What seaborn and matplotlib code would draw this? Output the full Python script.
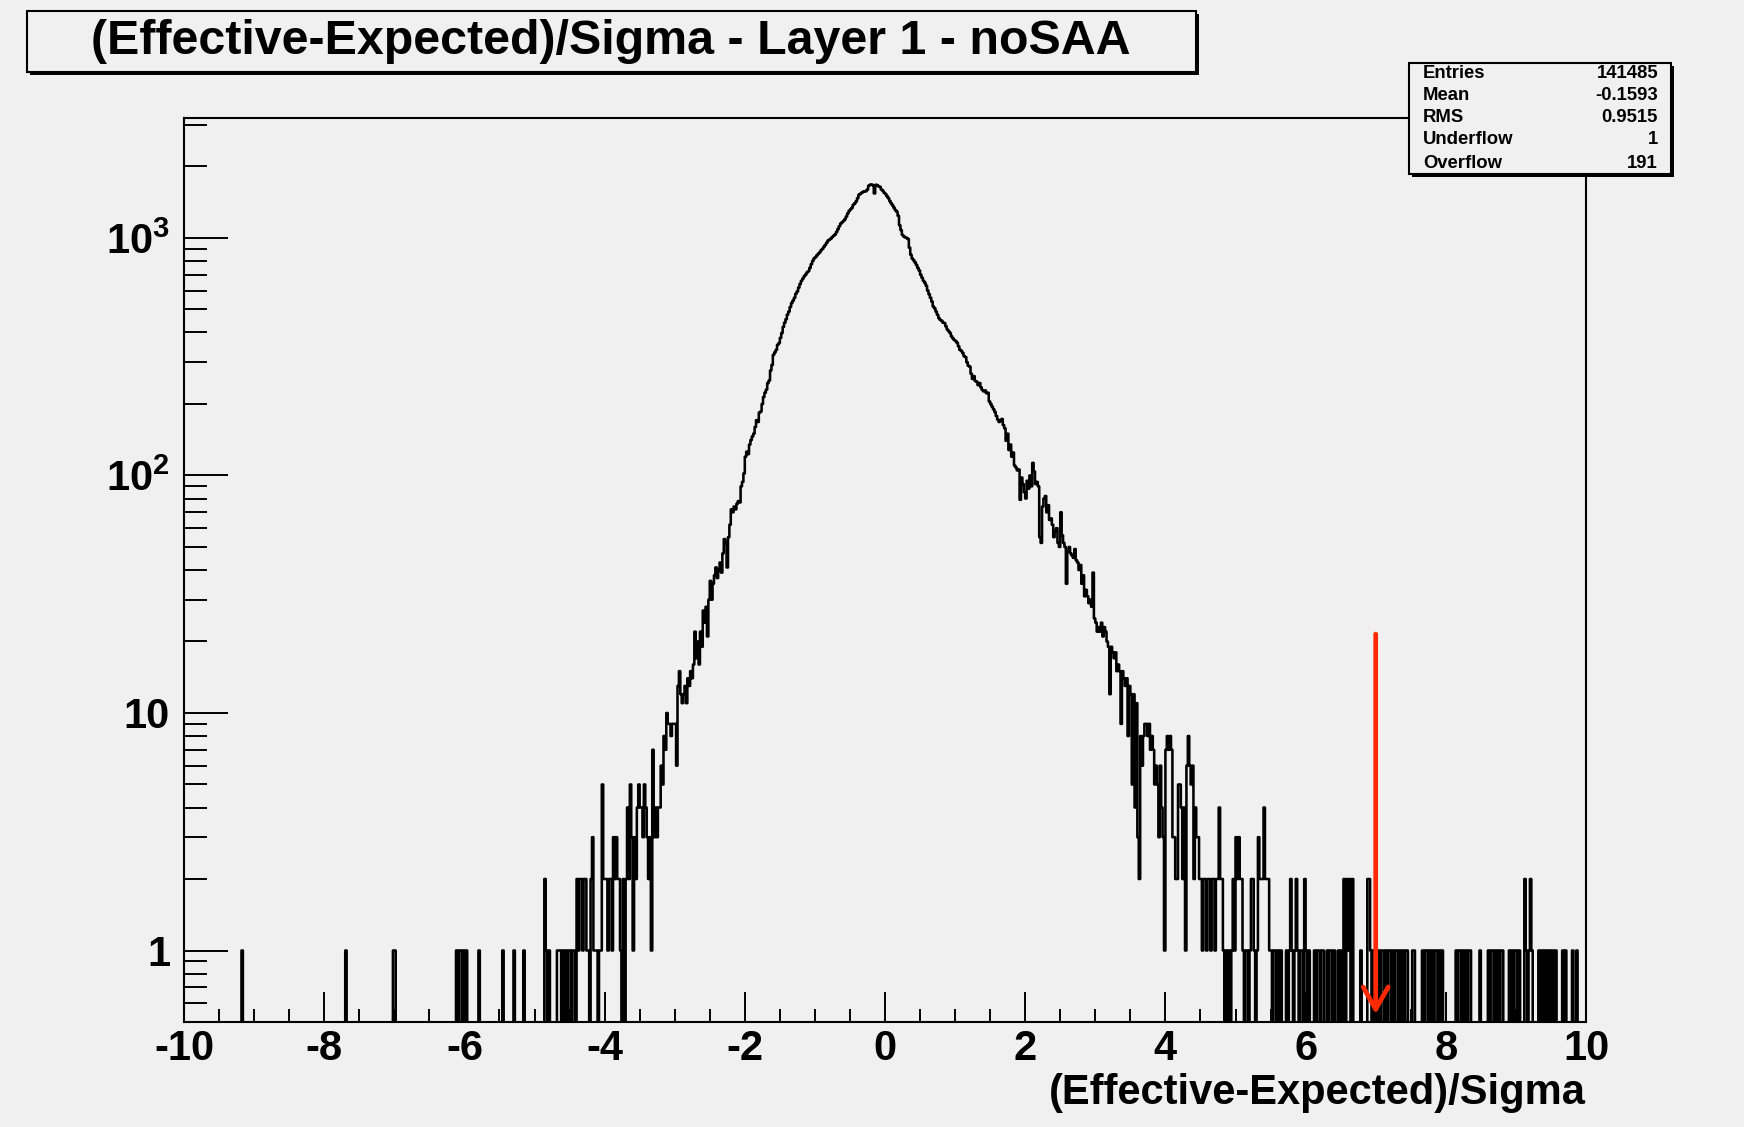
import numpy as np
import pandas as pd
import matplotlib
matplotlib.use("Agg")
import matplotlib.pyplot as plt
from matplotlib.patches import Rectangle, FancyArrowPatch
from matplotlib.ticker import LogLocator, MultipleLocator, NullFormatter
import seaborn as sns

# ---------------------------------------------------------------- data
x_lo, x_hi, n_bins = -10.0, 10.0, 1000

# isolated single entries in the far negative tail (bin left edges)
left_tail_x = [-9.18, -7.70, -7.02, -7.00, -6.12, -6.08, -6.06, -6.02,
               -5.98, -5.80, -5.46, -5.30, -5.16]

# bin contents from -5.00 upward, 0.02 per bin, 25 bins (0.5 units) per line
main_start = -5.0
main_counts = [
    0, 0, 0, 0, 0, 0, 0, 2, 1, 0, 1, 0, 0, 0, 0, 0, 1, 1, 1, 0, 1, 0, 1, 0, 1,            # -5.0
    1, 0, 1, 1, 0, 2, 1, 2, 2, 1, 2, 2, 1, 1, 0, 2, 3, 1, 1, 1, 0, 1, 1, 5, 2,            # -4.5
    2, 2, 1, 2, 2, 1, 3, 2, 3, 2, 2, 1, 0, 2, 0, 2, 4, 2, 5, 3, 1, 3, 2, 4, 5,            # -4.0
    4, 4, 3, 5, 4, 3, 2, 3, 1, 7, 3, 4, 3, 4, 4, 6, 5, 8, 7, 10, 9, 9, 8, 9, 9,           # -3.5
    9, 6, 13, 15, 12, 11, 12, 13, 11, 14, 13, 15, 14, 16, 22, 17, 20, 16, 22, 19,
    27, 24, 28, 21, 30,                                                                    # -3.0
    36, 30, 35, 38, 41, 37, 40, 43, 39, 47, 54, 52, 41, 55, 62, 72, 70, 74, 72, 76,
    78, 77, 90, 94, 102,                                                                   # -2.5
    120, 126, 123, 135, 141, 146, 150, 160, 171, 168, 184, 186, 200, 214, 223, 230,
    245, 251, 277, 292, 322, 330, 338, 355, 361,                                           # -2.0
    380, 398, 422, 440, 455, 476, 490, 512, 532, 545, 560, 582, 595, 618, 640, 660,
    675, 690, 702, 716, 725, 748, 775, 800, 820,                                           # -1.5
    830, 845, 858, 870, 888, 900, 918, 935, 955, 975, 985, 995, 1010, 1022, 1035,
    1060, 1090, 1120, 1150, 1165, 1180, 1200, 1230, 1270, 1300,                            # -1.0
    1320, 1340, 1380, 1400, 1425, 1470, 1520, 1535, 1550, 1565, 1570, 1575, 1600,
    1660, 1675, 1680, 1665, 1540, 1675, 1670, 1650, 1640, 1600, 1580, 1550,                # -0.5
    1530, 1500, 1470, 1430, 1400, 1370, 1340, 1310, 1290, 1240, 1130, 1080, 1030,
    1015, 1005, 1000, 990, 910, 850, 820, 805, 790, 770, 748, 730,                         # 0.0
    700, 680, 660, 647, 630, 600, 580, 560, 540, 515, 505, 490, 475, 460, 452, 448,
    440, 438, 425, 412, 405, 398, 385, 378, 372,                                           # 0.5
    368, 362, 350, 338, 335, 328, 318, 315, 300, 290, 287, 268, 255, 262, 250, 248,
    240, 245, 235, 229, 226, 228, 222, 223, 205,                                           # 1.0
    200, 195, 190, 185, 178, 172, 168, 170, 173, 163, 158, 140, 150, 128, 135, 120,
    125, 110, 108, 105, 106, 79, 98, 92, 85,                                               # 1.5
    80, 95, 88, 100, 90, 113, 104, 92, 94, 90, 55, 52, 74, 80, 82, 70, 75, 65, 66, 62,
    55, 58, 60, 52, 50,                                                                    # 2.0
    70, 56, 52, 50, 35, 48, 50, 47, 46, 45, 49, 44, 43, 40, 42, 35, 38, 31, 33, 31,
    29, 30, 28, 39, 25,                                                                    # 2.5
    24, 22, 23, 22, 24, 21, 23, 22, 20, 19, 12, 19, 18, 17, 18, 15, 16, 15, 9, 15,
    14, 13, 14, 8, 13,                                                                     # 3.0
    12, 5, 12, 4, 11, 3, 2, 8, 6, 8, 9, 9, 8, 9, 7, 8, 7, 5, 6, 5, 3, 6, 4, 3, 1,          # 3.5
    7, 8, 7, 8, 7, 3, 3, 2, 2, 5, 5, 4, 2, 4, 1, 6, 8, 6, 5, 6, 2, 4, 3, 3, 2,            # 4.0
    2, 1, 2, 2, 1, 2, 2, 1, 2, 2, 1, 2, 2, 4, 2, 2, 1, 0, 1, 0, 1, 0, 1, 2, 1,            # 4.5
    3, 2, 3, 2, 2, 1, 0, 1, 1, 0, 1, 2, 2, 1, 0, 1, 3, 2, 2, 2, 4, 2, 2, 2, 1,            # 5.0
    1, 0, 1, 1, 0, 1, 0, 1, 0, 0, 0, 1, 0, 1, 2, 1, 0, 1, 2, 1, 0, 1, 1, 0, 2,            # 5.5
    1, 0, 1, 0, 0, 0, 1, 0, 1, 1, 0, 1, 1, 0, 0, 1, 0, 1, 1, 0, 1, 0, 0, 1, 0,            # 6.0
    1, 0, 2, 0, 2, 1, 2, 0, 2, 0, 0, 0, 0, 0, 1, 0, 0, 0, 0, 2, 2, 1, 0, 1, 0,            # 6.5
    1, 0, 1, 0, 1, 1, 0, 1, 0, 1, 1, 0, 1, 0, 1, 1, 0, 1, 0, 1, 0, 1, 1, 0, 0,            # 7.0
    0, 1, 1, 0, 0, 0, 0, 0, 1, 0, 1, 1, 0, 1, 0, 1, 0, 1, 1, 0, 1, 0, 1, 0, 0,            # 7.5
    0, 0, 0, 0, 0, 0, 0, 1, 0, 1, 1, 0, 1, 0, 1, 0, 1, 1, 0, 0, 0, 0, 0, 0, 1,            # 8.0
    0, 0, 0, 0, 0, 1, 0, 1, 1, 0, 1, 0, 1, 0, 1, 1, 0, 0, 0, 0, 1, 0, 1, 0, 1,            # 8.5
    1, 0, 1, 0, 0, 0, 2, 1, 0, 1, 2, 1, 0, 0, 0, 0, 1, 0, 1, 0, 1, 0, 1, 0, 1,            # 9.0
    0, 1, 0, 1, 0, 0, 0, 0, 1, 0, 1, 0, 0, 0, 0, 1, 0, 0, 1, 0, 0, 0, 0, 0, 0,            # 9.5
]

stats_labels = ["Entries", "Mean", "RMS", "Underflow", "Overflow"]
stats_values = ["141485", "-0.1593", "0.9515", "1", "191"]

title_text = "(Effective-Expected)/Sigma - Layer 1 - noSAA"
x_label = "(Effective-Expected)/Sigma"
x_tick_values = [-10, -8, -6, -4, -2, 0, 2, 4, 6, 8, 10]
x_tick_labels = ["-10", "-8", "-6", "-4", "-2", "0", "2", "4", "6", "8", "10"]
y_tick_values = [1, 10, 100, 1000]
y_tick_labels = ["1", "10", r"$\mathbf{10}^{2}$", r"$\mathbf{10}^{3}$"]

# cut marker
arrow_x = 7.0
arrow_from = 21.5
arrow_to = 0.54

# ---------------------------------------------------------------- histogram
width = (x_hi - x_lo) / n_bins
edges = np.linspace(x_lo, x_hi, n_bins + 1)
counts = np.zeros(n_bins)
for xv in left_tail_x:
    counts[int(round((xv - x_lo) / width))] += 1
i0 = int(round((main_start - x_lo) / width))
counts[i0:i0 + len(main_counts)] = main_counts
df = pd.DataFrame({"value": edges[:-1] + width / 2, "n": counts})

# ---------------------------------------------------------------- style
bg = "#f0f0f0"
ink = "black"
sns.set_style("ticks")
plt.rcParams.update({
    "font.family": ["Liberation Sans", "DejaVu Sans"],
    "font.weight": "bold",
    "mathtext.fontset": "custom",
    "mathtext.rm": "Liberation Sans",
    "mathtext.bf": "Liberation Sans:bold",
    "mathtext.it": "Liberation Sans:italic",
    "axes.unicode_minus": False,
    "axes.linewidth": 1.5,
    "axes.edgecolor": ink,
    "axes.labelcolor": ink,
    "text.color": ink,
    "xtick.color": ink,
    "ytick.color": ink,
    "xtick.labelcolor": ink,
    "ytick.labelcolor": ink,
})

W, H = 1744, 1127
fig = plt.figure(figsize=(W / 100, H / 100), dpi=100, facecolor=bg)
ax_l, ax_r, ax_t, ax_b = 184, 1586, 118, 1022
ax = fig.add_axes([ax_l / W, 1 - ax_b / H, (ax_r - ax_l) / W, (ax_b - ax_t) / H],
                  facecolor=bg)

sns.histplot(data=df, x="value", weights="n", bins=edges.tolist(), element="step",
             fill=False, color=ink, linewidth=1.85, ax=ax)
ax.set_yscale("log")
ax.set_xlim(x_lo, x_hi)
ax.set_ylim(0.5, 3200)

# ticks
ax.set_xticks(x_tick_values, x_tick_labels)
ax.xaxis.set_minor_locator(MultipleLocator(0.5))
ax.set_yticks(y_tick_values, y_tick_labels)
ax.yaxis.set_minor_locator(LogLocator(base=10, subs=np.arange(2, 10)))
ax.yaxis.set_minor_formatter(NullFormatter())
ax.tick_params(axis="both", which="both", direction="in", top=False, right=False,
               colors=ink, labelcolor=ink, width=1.4)
ax.tick_params(axis="y", which="major", length=31.5, pad=10, labelsize=30)
ax.tick_params(axis="y", which="minor", length=16.5)
ax.tick_params(axis="x", which="major", length=21.5, pad=5, labelsize=30)
ax.tick_params(axis="x", which="minor", length=9.7)
for lab in ax.get_xticklabels() + ax.get_yticklabels():
    lab.set_fontweight("bold")
    lab.set_color(ink)

ax.set_ylabel("")
ax.set_xlabel(x_label, fontsize=30, fontweight="bold", loc="right", labelpad=3,
              color=ink)
for s in ax.spines.values():
    s.set_visible(True)
    s.set_linewidth(1.5)
    s.set_color(ink)

# cut arrow
arrow = FancyArrowPatch((arrow_x, arrow_from), (arrow_x, arrow_to),
                        arrowstyle="->,head_length=0.8,head_width=0.45",
                        mutation_scale=20, color="#ff2a00", linewidth=3.4,
                        shrinkA=0, shrinkB=0, zorder=5)
ax.add_patch(arrow)


def boxed(x0, y0, x1, y1, shadow=3):
    """Framed panel with a drop shadow, given in figure pixels (top-left origin)."""
    sh = Rectangle(((x0 + shadow) / W, 1 - (y1 + shadow) / H), (x1 - x0) / W,
                   (y1 - y0) / H, transform=fig.transFigure, facecolor=ink,
                   edgecolor="none", zorder=10)
    bx = Rectangle((x0 / W, 1 - y1 / H), (x1 - x0) / W, (y1 - y0) / H,
                   transform=fig.transFigure, facecolor=bg, edgecolor=ink,
                   linewidth=1.5, zorder=11)
    fig.patches.extend([sh, bx])


# title panel
boxed(27, 11, 1196, 72)
fig.text(611 / W, 1 - 42 / H, title_text, ha="center", va="center",
         fontsize=34.8, fontweight="bold", color=ink, zorder=12)

# statistics panel
boxed(1409, 63, 1671, 174)
row_y = [73, 95, 118, 140, 163]
for lab, val, ry in zip(stats_labels, stats_values, row_y):
    fig.text(1423 / W, 1 - ry / H, lab, ha="left", va="center",
             fontsize=13.3, fontweight="bold", color=ink, zorder=12)
    fig.text(1658 / W, 1 - ry / H, val, ha="right", va="center",
             fontsize=13.3, fontweight="bold", color=ink, zorder=12)

fig.savefig("out.png", dpi=100, facecolor=bg)
